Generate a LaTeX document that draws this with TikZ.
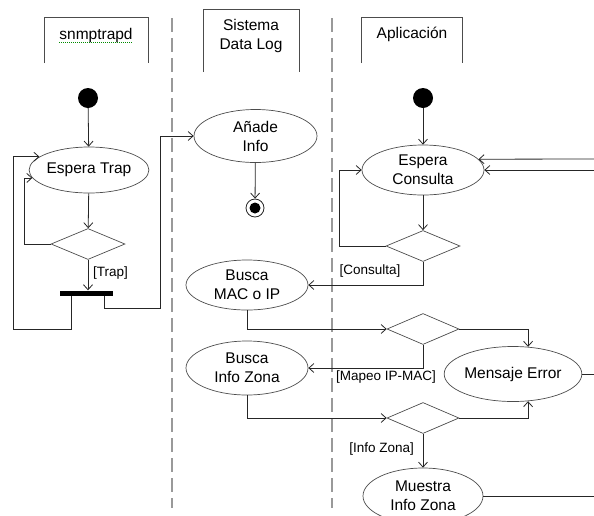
\documentclass[tikz,border=0pt]{standalone}
\usepackage{fontspec}
\setmainfont{Liberation Sans}
\usetikzlibrary{shapes.geometric,arrows.meta,calc}
\begin{document}
\begin{tikzpicture}[x=1pt,y=-1pt,
  ln/.style={draw=black!85,line width=0.8pt},
  arr/.style={ln,-{Straight Barb[length=5pt,width=9pt]}},
  act/.style={ellipse,draw=black!70,line width=0.7pt,inner sep=0pt,align=center,font=\fontsize{15.5}{19}\selectfont},
  dec/.style={diamond,draw=black!70,line width=0.7pt,inner sep=0pt,minimum width=74pt,minimum height=31pt},
  startnode/.style={circle,fill=black,inner sep=0pt,minimum size=20pt},
  lbl/.style={font=\fontsize{13.5}{16}\selectfont,inner sep=0pt},
  hdr/.style={font=\fontsize{15.5}{19}\selectfont,align=center,inner sep=0pt},
  lane/.style={draw=black!40,line width=2.5pt,dash pattern=on 14pt off 6pt},
  hbox/.style={draw=black!70,line width=0.8pt}]
\useasboundingbox (0,0) rectangle (594,515);
% swimlane separators
\draw[lane] (172,18) -- (172,508);
\draw[lane] (332,18) -- (332,508);
% headers
\draw[hbox] (44,63) -- (44,17) -- (148,17) -- (148,63);
\node[hdr] (h1) at (96,35) {snmptrapd};
\draw[green!55!black,line width=0.8pt,dash pattern=on 1pt off 1pt] ([yshift=-3pt]h1.base west) -- ([yshift=-3pt]h1.base east);
\draw[hbox] (203,72) -- (203,9) -- (299,9) -- (299,72);
\node[hdr] (h2) at (251,36) {Sistema\\Data Log};
\draw[hbox] (361,63) -- (361,17) -- (462,17) -- (462,63);
\node[hdr] (h3) at (412,34) {Aplicación};
% left lane
\node[startnode] (s1) at (88,98) {};
\node[act,minimum width=102pt,minimum height=46pt] (trap) at (89,170) {Espera Trap};
\node[dec] (dT) at (88,244) {};
\node[fill=black,inner sep=0pt,minimum width=53pt,minimum height=5pt] (bar) at (86.5,293) {};
\node[lbl,anchor=west] (lT) at (93,273) {[Trap]};
% middle lane
\node[act,minimum width=123pt,minimum height=53pt] (anade) at (255.5,136) {Añade\\Info};
\node[circle,draw=black!85,line width=0.8pt,minimum size=18pt,inner sep=0pt] (fin) at (255,208) {};
\node[circle,fill=black,minimum size=11pt,inner sep=0pt] (fin2) at (fin) {};
\node[act,minimum width=122pt,minimum height=50pt] (bmac) at (247,285) {Busca\\MAC o IP};
\node[act,minimum width=122pt,minimum height=54pt] (bsz) at (247,368) {Busca\\Info Zona};
% right lane
\node[startnode] (s2) at (423,98) {};
\node[act,minimum width=122pt,minimum height=50pt] (ecq) at (423,170) {Espera\\Consulta};
\node[dec] (d1) at (423,246) {};
\node[dec,minimum width=72pt] (d2) at (423,329) {};
\node[act,minimum width=121pt,minimum height=55pt] (merr) at (513,374) {Mensaje Error};
\node[dec,minimum width=72pt] (d3) at (423,418) {};
\node[act,minimum width=120pt,minimum height=56pt] (mst) at (423,496) {Muestra\\Info Zona};
\coordinate (rin) at (594,159);
\coordinate (rout) at (594,493);
% labels
\node[lbl] (lC) at (370,271) {[Consulta]};
\node[lbl] (lM) at (386,377) {[Mapeo IP-MAC]};
\node[lbl,anchor=east] (lZ) at (414,449) {[Info Zona]};
% connectors left
\draw[arr] (s1) -- (trap);
\draw[arr] (trap) -- (dT);
\draw[arr] (dT.west) -- ++(-26,0) |- (trap.188);
\draw[arr] (dT) -- (dT |- bar.north);
\draw[arr] ([xshift=12pt]bar.south west) -- ++(0,34) -- ++(-58,0) |- (trap.165);
\draw[arr] ([xshift=-9pt]bar.south east) -- ++(0,12.5) -- ++(56,0) |- (anade.west);
% middle
\draw[arr] (anade) -- (fin);
% right
\draw[arr] (s2) -- (ecq);
\draw[arr] (ecq) -- (d1);
\draw[arr] (d1.west) -- ++(-46,0) |- (ecq.west);
\draw[arr] (d1.south) |- (bmac.east);
\draw[arr] (bmac.south) |- (d2.west);
\draw[arr] (d2.east) -| (merr.61);
\draw[arr] (d2.south) |- (bsz.east);
\draw[arr] (merr.east) -- ++(14,0) |- (ecq.east);
\draw[arr] (rin) -- (ecq.11);
\draw[arr] (bsz.south) |- (d3.west);
\draw[arr] (d3.east) -| (merr.-61);
\draw[arr] (d3) -- (mst);
\draw[ln] (mst.east) -- (mst.east -| rout);
\end{tikzpicture}
\end{document}
